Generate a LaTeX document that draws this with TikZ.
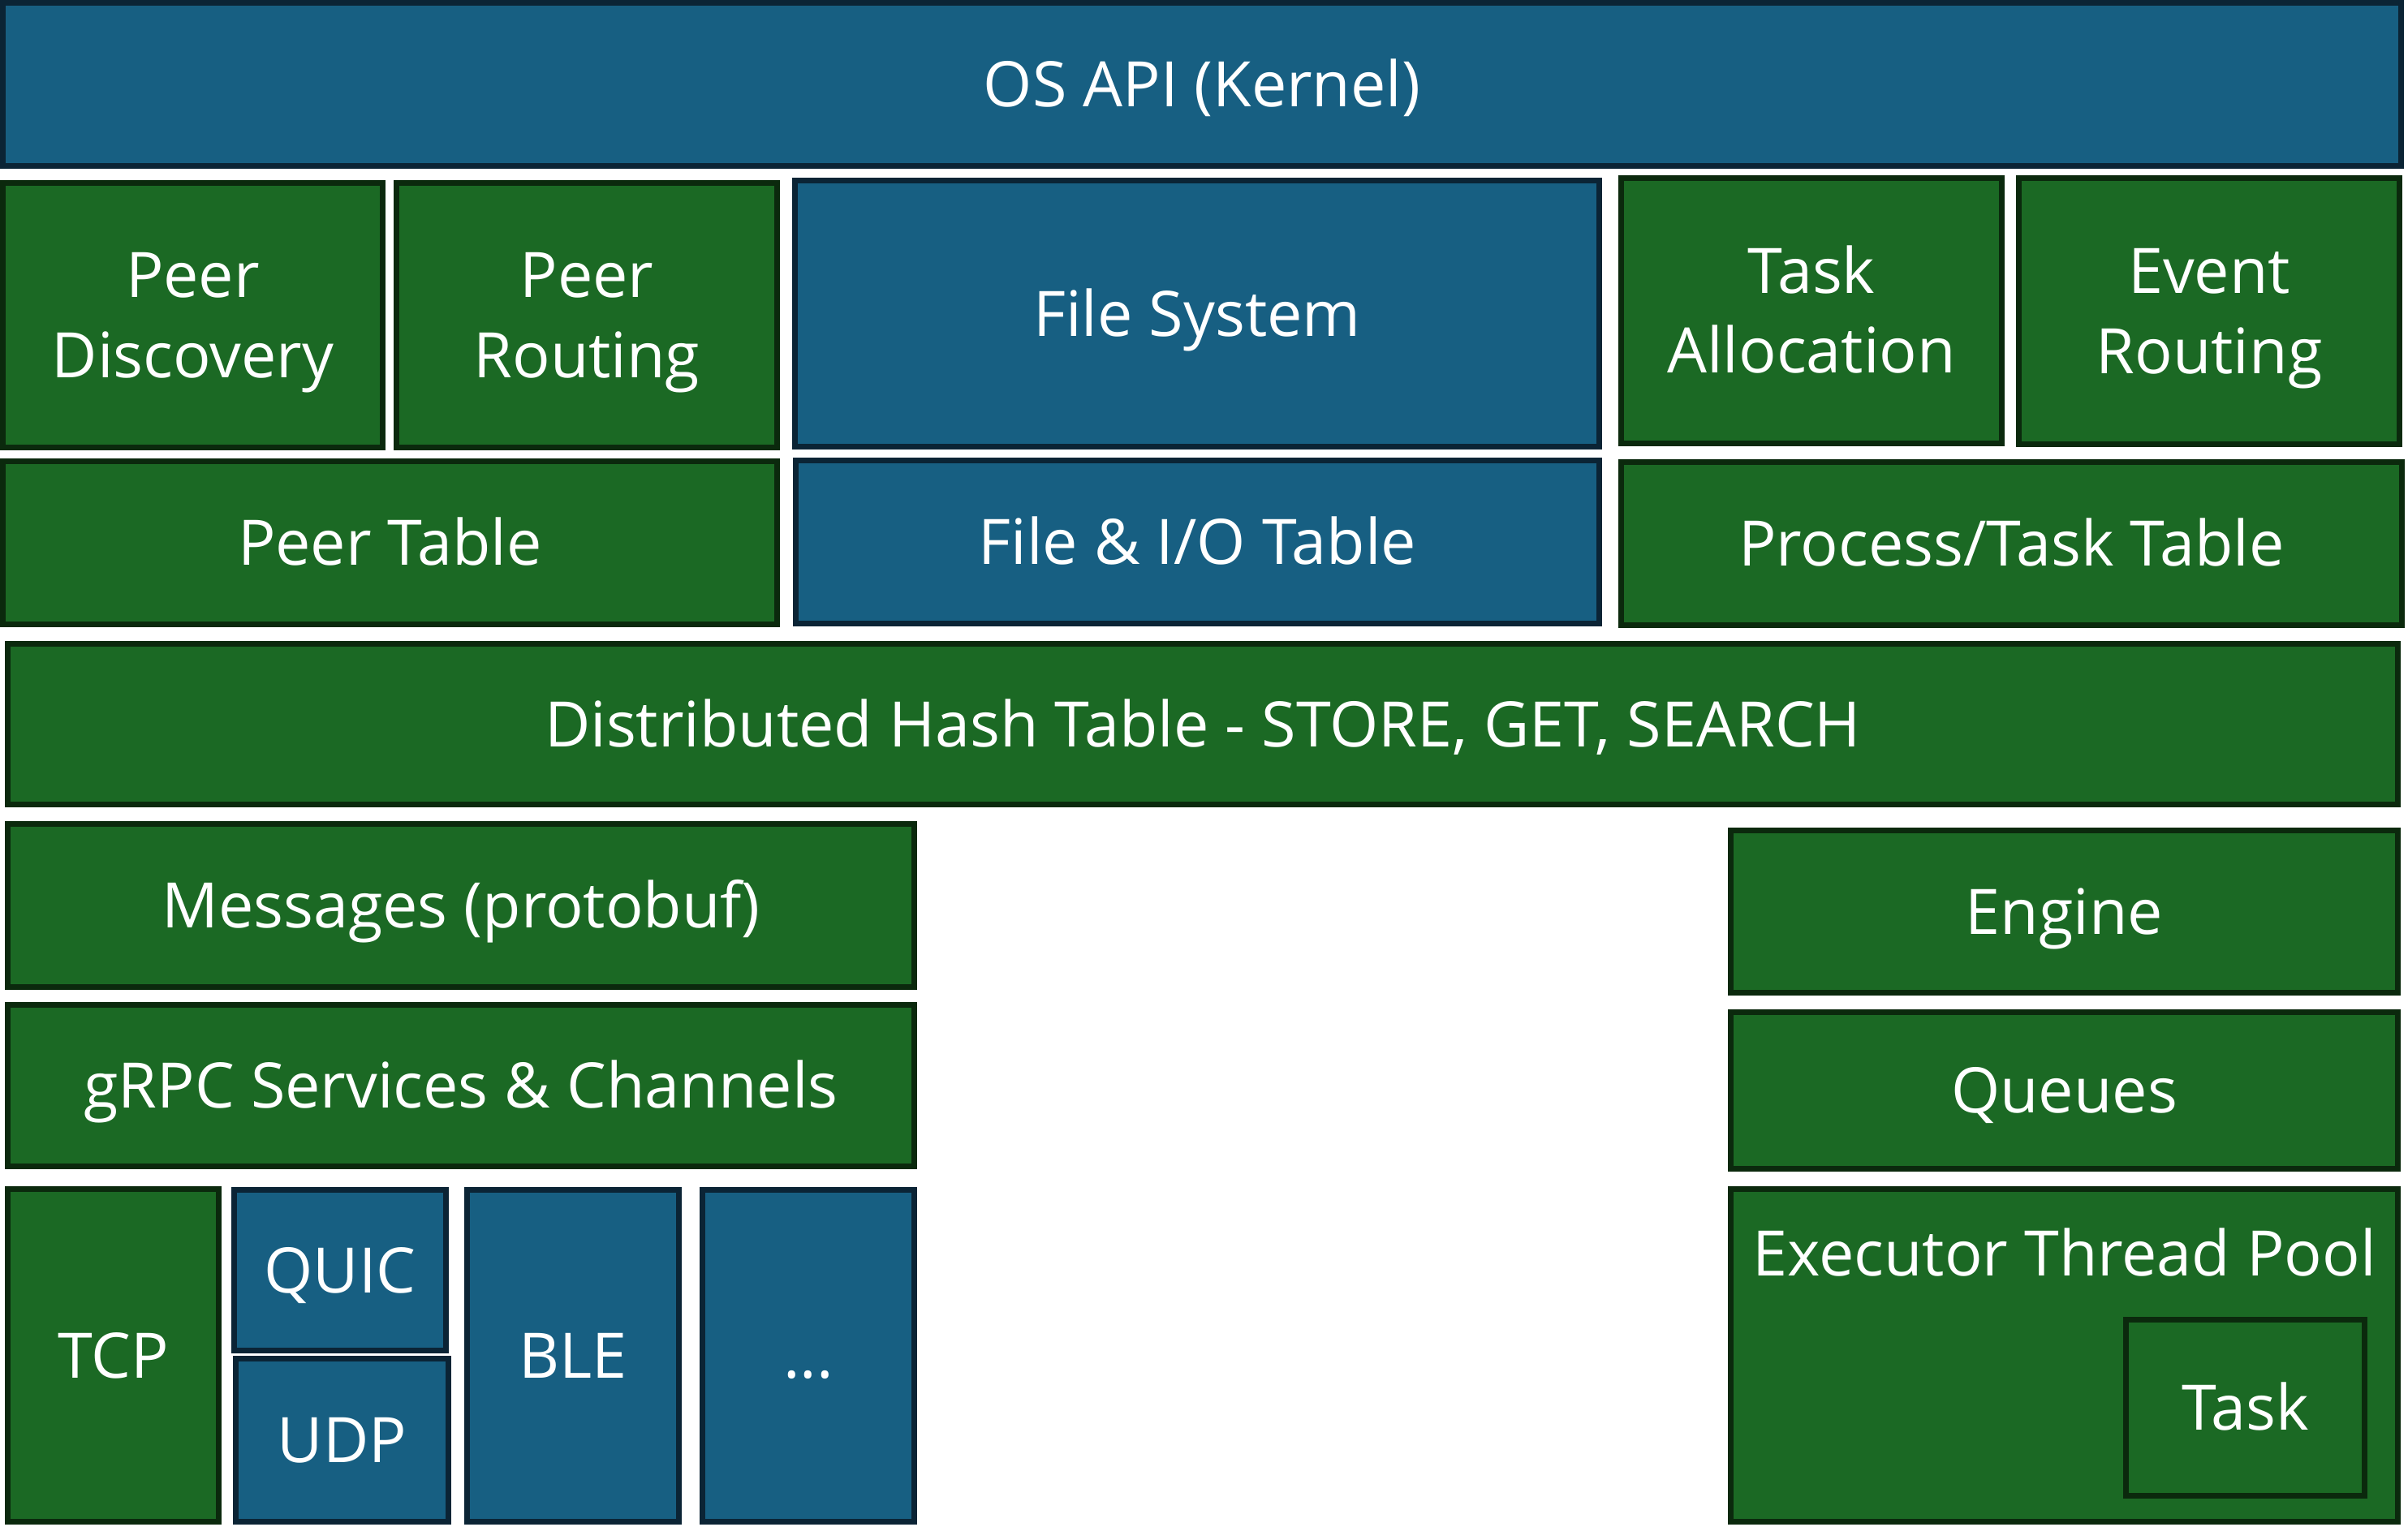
\documentclass[tikz,border=0pt]{standalone}
\usepackage{fontspec}
\setmainfont{Open Sans}
\usepackage{tikz}
\usetikzlibrary{positioning}
\definecolor{blufill}{HTML}{175F82}
\definecolor{bluline}{HTML}{0B2435}
\definecolor{grnfill}{HTML}{1B6924}
\definecolor{grnline}{HTML}{0B290D}
\tikzset{
	layer/.style = {rectangle, align=center, inner sep=0pt, line width=0.07cm, text=white, font=\fontsize{22}{28}\selectfont, text height=15.7pt, text depth=0pt},
	layer_blu/.style = {layer, draw=bluline, fill=blufill},
	layer_grn/.style = {layer, draw=grnline, fill=grnfill},
	two_line/.style = {text height=43.7pt},
	sz/.style 2 args = {minimum width=#1cm-0.07cm, minimum height=#2cm-0.07cm}
}
\begin{document}
\begin{tikzpicture}
\useasboundingbox (0,0) rectangle (29.67,-18.81);
\node (os) [layer_blu, sz={29.62}{2.08}] at (14.81,-1.04) {OS API (Kernel)};
% services
\node (pdisc) [layer_grn, two_line, sz={4.75}{3.33}] at (2.375,-3.885) {Peer\\Discovery};
\node (prout) [layer_grn, two_line, sz={4.76}{3.33}] at (7.23,-3.885) {Peer\\Routing};
\node (fsys) [layer_blu, sz={9.98}{3.35}] at (14.75,-3.865) {File System};
\node (talloc) [layer_grn, two_line, sz={4.76}{3.34}] at (22.32,-3.83) {Task\\Allocation};
\node (erout) [layer_grn, two_line, sz={4.76}{3.35}] at (27.22,-3.835) {Event\\Routing};
% tables
\node (ptab) [layer_grn, sz={9.61}{2.08}] at (4.805,-6.69) {Peer Table};
\node (ftab) [layer_blu, sz={9.97}{2.08}] at (14.755,-6.68) {File \& I/O Table};
\node (ttab) [layer_grn, sz={9.69}{2.08}] at (24.785,-6.70) {Process/Task Table};
\node (dht) [layer_grn, sz={29.52}{2.05}] at (14.82,-8.925) {Distributed Hash Table - STORE, GET, SEARCH};
% network stack
\node (msgs) [layer_grn, sz={11.24}{2.08}] at (5.68,-11.16) {Messages (protobuf)};
\node (grpc) [layer_grn, sz={11.24}{2.06}] at (5.68,-13.38) {gRPC Services \& Channels};
\node (tcp) [layer_grn, sz={2.67}{4.17}] at (1.395,-16.705) {TCP};
\node (quic) [layer_blu, sz={2.68}{2.05}] at (4.19,-15.655) {QUIC};
\node (udp) [layer_blu, sz={2.69}{2.08}] at (4.215,-17.75) {UDP};
\node (ble) [layer_blu, sz={2.68}{4.16}] at (7.06,-16.71) {BLE};
\node (more) [layer_blu, sz={2.68}{4.16}] at (9.96,-16.71) {...};
% execution
\node (engine) [layer_grn, sz={8.29}{2.07}] at (25.435,-11.235) {Engine};
\node (queues) [layer_grn, sz={8.29}{2.00}] at (25.435,-13.44) {Queues};
\node (exec) [layer_grn, sz={8.29}{4.17}] at (25.435,-16.705) {};
\node (exec_lbl) [layer, below=0.52cm of exec.north] {Executor Thread Pool};
\node (task) [layer_grn, sz={3.01}{2.24}] at (27.665,-17.35) {Task};
\end{tikzpicture}
\end{document}
